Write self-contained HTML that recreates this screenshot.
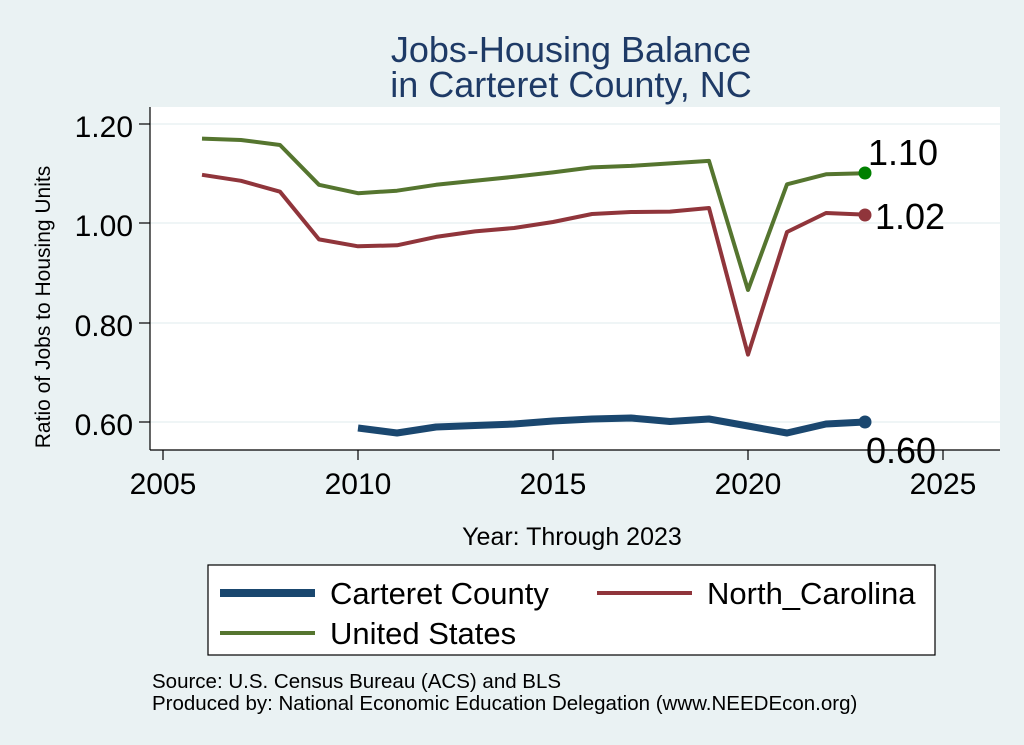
<!DOCTYPE html>
<html><head><meta charset="utf-8"><style>
body{margin:0;background:#eaf2f3;}
svg{display:block;font-family:"Liberation Sans",sans-serif;}
</style></head><body>
<svg width="1024" height="745" viewBox="0 0 1024 745">
<rect width="1024" height="745" fill="#eaf2f3"/>
<text x="571" y="62" font-size="36" fill="#1e3a66" text-anchor="middle">Jobs-Housing Balance</text>
<text x="571" y="97" font-size="36" fill="#1e3a66" text-anchor="middle">in Carteret County, NC</text>
<rect x="150" y="107" width="850" height="343" fill="#fff"/>
<g stroke="#eaf2f3" stroke-width="1.5">
<line x1="150" y1="124" x2="1000" y2="124"/><line x1="150" y1="223" x2="1000" y2="223"/>
<line x1="150" y1="323" x2="1000" y2="323"/><line x1="150" y1="422" x2="1000" y2="422"/>
</g>
<g stroke="#000" stroke-width="1.2">
<line x1="150" y1="107" x2="150" y2="450"/><line x1="150" y1="450" x2="1000" y2="450"/>
<line x1="139" y1="124" x2="150" y2="124"/><line x1="139" y1="223" x2="150" y2="223"/>
<line x1="139" y1="323" x2="150" y2="323"/><line x1="139" y1="422" x2="150" y2="422"/>
<line x1="163" y1="450" x2="163" y2="460"/><line x1="358" y1="450" x2="358" y2="460"/>
<line x1="553" y1="450" x2="553" y2="460"/><line x1="748" y1="450" x2="748" y2="460"/>
<line x1="943" y1="450" x2="943" y2="460"/>
</g>
<g font-size="30" fill="#000" text-anchor="end">
<text x="133" y="137">1.20</text><text x="133" y="236">1.00</text>
<text x="133" y="336">0.80</text><text x="133" y="435">0.60</text>
</g>
<g font-size="30" fill="#000" text-anchor="middle">
<text x="163" y="494">2005</text><text x="358" y="494">2010</text><text x="553" y="494">2015</text>
<text x="748" y="494">2020</text><text x="943" y="494">2025</text>
</g>
<text x="50" y="307" font-size="21" text-anchor="middle" transform="rotate(-90 50 307)">Ratio of Jobs to Housing Units</text>
<text x="572" y="545" font-size="25" text-anchor="middle">Year: Through 2023</text>
<g fill="none" stroke-linejoin="round">
<polyline stroke="#55752f" stroke-width="4" points="202,138.6 241,140 280,145 319,184.8 358,193.2 397,190.7 436,184.8 475,180.8 514,176.8 553,172.4 592,167.4 631,165.9 670,163.4 709,160.9 748,290 787,184.3 826,174.3 865,173.3"/>
<polyline stroke="#90353b" stroke-width="4" points="202,174.8 241,180.8 280,191.7 319,239.4 358,246.3 397,245.3 436,236.9 475,231.4 514,228 553,222 592,214 631,212 670,211.6 709,208 748,354.6 787,232 826,213 865,214.6"/>
<polyline stroke="#1a476f" stroke-width="7" points="358,428 397,433 436,427 475,425.5 514,424 553,421 592,419 631,418 670,421.5 709,419 748,426 787,433 826,424 865,422"/>
</g>
<circle cx="865" cy="173" r="6.5" fill="#008000"/>
<circle cx="865" cy="215" r="6.5" fill="#90353b"/>
<circle cx="865" cy="422" r="6.5" fill="#1a476f"/>
<g font-size="36" fill="#000">
<text x="868" y="165">1.10</text><text x="875" y="229">1.02</text><text x="866" y="463">0.60</text>
</g>
<rect x="208" y="565" width="727" height="90" fill="#fff" stroke="#000" stroke-width="1.2"/>
<line x1="220" y1="593" x2="315" y2="593" stroke="#1a476f" stroke-width="8"/>
<text x="330" y="604" font-size="31">Carteret County</text>
<line x1="597" y1="593" x2="692" y2="593" stroke="#90353b" stroke-width="4"/>
<text x="707" y="604" font-size="31">North_Carolina</text>
<line x1="220" y1="633" x2="315" y2="633" stroke="#55752f" stroke-width="4"/>
<text x="330" y="644" font-size="31">United States</text>
<text x="152" y="688" font-size="20.5">Source: U.S. Census Bureau (ACS) and BLS</text>
<text x="152" y="710" font-size="20.5">Produced by: National Economic Education Delegation (www.NEEDEcon.org)</text>
</svg>
</body></html>
